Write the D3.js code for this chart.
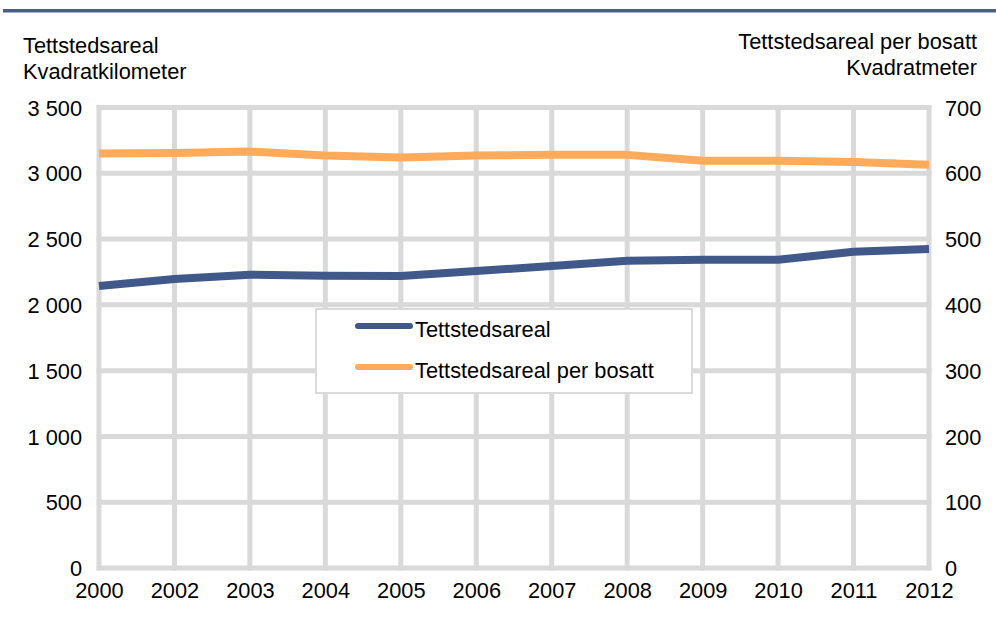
<!DOCTYPE html>
<html>
<head>
<meta charset="utf-8">
<script src="https://cdn.jsdelivr.net/npm/d3@7"></script>
<style>
  body { margin: 0; background: #fff; }
  svg text { font-family: "Liberation Sans", Arial, sans-serif; font-size: 21.8px; fill: #000; }
</style>
</head>
<body>
<svg id="chart" width="996" height="619"></svg>
<script>
// data
var years = ["2000", "2002", "2003", "2004", "2005", "2006", "2007", "2008", "2009", "2010", "2011", "2012"];
var areaKm2 = [2143, 2197, 2229, 2222, 2219, 2257, 2295, 2336, 2343, 2343, 2404, 2425];
var areaPerPerson = [630, 631, 633, 627, 624, 627, 628, 628, 619, 619, 617, 613];
var leftTicks = [0, 500, 1000, 1500, 2000, 2500, 3000, 3500];
var rightTicks = [0, 100, 200, 300, 400, 500, 600, 700];
var seriesNames = ["Tettstedsareal", "Tettstedsareal per bosatt"];
var colors = ["#41598a", "#ffab5b"];

var svg = d3.select("#chart");

var margin = { top: 107.5, left: 99, right: 67, bottom: 51 },
    width = 996 - margin.left - margin.right,
    height = 619 - margin.top - margin.bottom;

var x = d3.scalePoint().domain(years).range([margin.left, margin.left + width]);
var yL = d3.scaleLinear().domain([0, 3500]).range([margin.top + height, margin.top]);
var yR = d3.scaleLinear().domain([0, 700]).range([margin.top + height, margin.top]);

// blue rule under the (cut off) title
svg.append("rect")
  .attr("x", 3).attr("y", 9)
  .attr("width", 993).attr("height", 3.5)
  .attr("fill", "#466089");

// grid
var grid = svg.append("g").attr("stroke", "#d9d9d9").attr("stroke-width", 5);
grid.selectAll(".hg")
  .data(leftTicks)
  .enter().append("line")
  .attr("x1", margin.left - 2.5).attr("x2", margin.left + width + 2.5)
  .attr("y1", function(d) { return yL(d); })
  .attr("y2", function(d) { return yL(d); });
grid.selectAll(".vg")
  .data(years)
  .enter().append("line")
  .attr("x1", function(d) { return x(d); })
  .attr("x2", function(d) { return x(d); })
  .attr("y1", margin.top - 2.5).attr("y2", margin.top + height + 2.5);

// axis labels
function fmt(v) { return d3.format(",")(v).replace(",", " "); }

var leftAxis = d3.axisLeft(yL).tickValues(leftTicks).tickSize(0).tickPadding(17).tickFormat(fmt);
var gl = svg.append("g").attr("transform", "translate(" + margin.left + ",0)").call(leftAxis);
gl.select(".domain").remove();
gl.selectAll("text").attr("dy", "0.35em");

var rightAxis = d3.axisRight(yR).tickValues(rightTicks).tickSize(0).tickPadding(16);
var gr = svg.append("g").attr("transform", "translate(" + (margin.left + width) + ",0)").call(rightAxis);
gr.select(".domain").remove();
gr.selectAll("text").attr("dy", "0.35em");

var xAxis = d3.axisBottom(x).tickSize(0).tickPadding(15);
var gx = svg.append("g").attr("transform", "translate(0," + (margin.top + height) + ")").call(xAxis);
gx.select(".domain").remove();

// axis titles
svg.append("text").attr("x", 23).attr("y", 53).text("Tettstedsareal");
svg.append("text").attr("x", 23).attr("y", 79).text("Kvadratkilometer");
svg.append("text").attr("x", 977).attr("y", 49).attr("text-anchor", "end").text("Tettstedsareal per bosatt");
svg.append("text").attr("x", 977).attr("y", 75).attr("text-anchor", "end").text("Kvadratmeter");

// lines
var lineL = d3.line().x(function(d, i) { return x(years[i]); }).y(function(d) { return yL(d); });
var lineR = d3.line().x(function(d, i) { return x(years[i]); }).y(function(d) { return yR(d); });

svg.append("path").datum(areaPerPerson)
  .attr("d", lineR).attr("fill", "none")
  .attr("stroke", colors[1]).attr("stroke-width", 8).attr("stroke-linejoin", "round");
svg.append("path").datum(areaKm2)
  .attr("d", lineL).attr("fill", "none")
  .attr("stroke", colors[0]).attr("stroke-width", 8).attr("stroke-linejoin", "round");

// legend
var legend = svg.append("g");
legend.append("rect")
  .attr("x", 316).attr("y", 309).attr("width", 376).attr("height", 84)
  .attr("fill", "#fff").attr("stroke", "#d9d9d9").attr("stroke-width", 2);
var items = legend.selectAll(".item")
  .data(seriesNames)
  .enter().append("g")
  .attr("transform", function(d, i) { return "translate(0," + (326 + i * 41) + ")"; });
items.append("line")
  .attr("x1", 358).attr("x2", 410).attr("y1", 0).attr("y2", 0)
  .attr("stroke", function(d, i) { return colors[i]; })
  .attr("stroke-width", 6).attr("stroke-linecap", "round");
items.append("text")
  .attr("x", 415).attr("y", 11)
  .text(function(d) { return d; });
</script>
</body>
</html>
